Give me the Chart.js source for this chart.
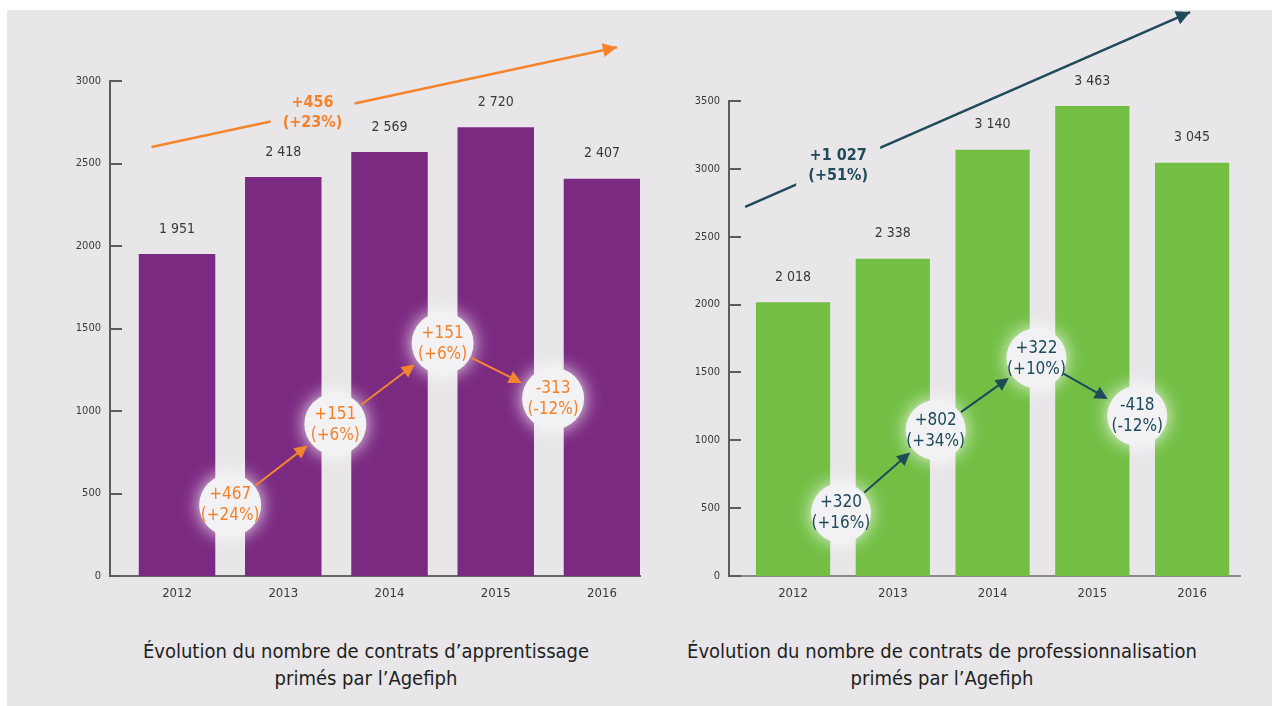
<!DOCTYPE html>
<html>
<head>
<meta charset="utf-8">
<script src="https://cdn.jsdelivr.net/npm/chart.js@4.4.1/dist/chart.umd.min.js"></script>
<style>
  body { margin: 0; width: 1272px; height: 706px; overflow: hidden; background: #fff; position: relative;
         font-family: 'Liberation Sans Narrow', 'DejaVu Sans Condensed', Roboto, sans-serif; }
  #bg { position: absolute; left: 7px; top: 10px; right: 0; bottom: 0; background: #e8e6e9; }
  canvas { position: absolute; top: 0; }
  #apprChart { left: 0; }
  #proChart { left: 650px; }
  .title { position: absolute; top: 638px; text-align: center; font-size: 20px; line-height: 27px; color: #231f20; }
</style>
</head>
<body>
<div id="bg"></div>
<canvas id="apprChart" width="672" height="620"></canvas>
<canvas id="proChart" width="622" height="620"></canvas>
<div class="title" style="left:116px;width:500px">Évolution du nombre de contrats d’apprentissage<br>primés par l’Agefiph</div>
<div class="title" style="left:672px;width:540px">Évolution du nombre de contrats de professionnalisation<br>primés par l’Agefiph</div>
<script>
const years = [2012, 2013, 2014, 2015, 2016];

// contrats d'apprentissage
const apprValues = [1951, 2418, 2569, 2720, 2407];
const apprDeltas = ['+467', '+151', '+151', '-313'];
const apprPcts = ['(+24%)', '(+6%)', '(+6%)', '(-12%)'];
const apprBubbleX = [2012.5, 2013.49, 2014.5, 2015.54];
const apprBubbleY = [430, 920, 1410, 1075];
const apprTrendX = [2011.76, 2016.14];
const apprTrendY = [2600, 3205];
const apprTotal = ['+456', '(+23%)'];

// contrats de professionnalisation
const proValues = [2018, 2338, 3140, 3463, 3045];
const proDeltas = ['+320', '+802', '+322', '-418'];
const proPcts = ['(+16%)', '(+34%)', '(+10%)', '(-12%)'];
const proBubbleX = [2012.48, 2013.43, 2014.44, 2015.45];
const proBubbleY = [465, 1075, 1605, 1180];
const proTrendX = [2011.52, 2015.98];
const proTrendY = [2720, 4155];
const proTotal = ['+1 027', '(+51%)'];

const BG = '#e8e6e9';
Chart.defaults.font.family = "'Liberation Sans Narrow', 'DejaVu Sans Condensed', Roboto, sans-serif";

function fmt(v) {
    return String(v).replace(/\B(?=(\d{3})+(?!\d))/g, ' ');
}

function arrowHead(ctx, x1, y1, x2, y2, size, color) {
    const a = Math.atan2(y2 - y1, x2 - x1);
    ctx.fillStyle = color;
    ctx.beginPath();
    ctx.moveTo(x2, y2);
    ctx.lineTo(x2 - size * Math.cos(a) + size * 0.5 * Math.sin(a), y2 - size * Math.sin(a) - size * 0.5 * Math.cos(a));
    ctx.lineTo(x2 - size * Math.cos(a) - size * 0.5 * Math.sin(a), y2 - size * Math.sin(a) + size * 0.5 * Math.cos(a));
    ctx.closePath();
    ctx.fill();
}

const annotate = {
    id: 'annotate',
    beforeDatasetDraw(chart, args) {
        if (args.meta.type !== 'bubble') return;
        const ctx = chart.ctx;
        ctx.save();
        ctx.shadowColor = 'rgba(255,255,255,0.9)';
        ctx.shadowBlur = 18;
    },
    afterDatasetDraw(chart, args) {
        if (args.meta.type === 'bubble') chart.ctx.restore();
    },
    afterDatasetsDraw(chart, args, o) {
        const ctx = chart.ctx;
        ctx.save();
        ctx.textAlign = 'center';
        ctx.textBaseline = 'middle';

        // valeurs au-dessus des barres
        const bars = chart.getDatasetMeta(2).data;
        ctx.fillStyle = '#3a3838';
        ctx.font = "14px " + Chart.defaults.font.family;
        bars.forEach((b, i) => ctx.fillText(fmt(o.values[i]), b.x, b.y - 25));

        // flèches entre les bulles
        const bubbles = chart.getDatasetMeta(0).data;
        ctx.strokeStyle = o.accent;
        ctx.lineWidth = 2;
        for (let i = 0; i < bubbles.length - 1; i++) {
            const a = bubbles[i], b = bubbles[i + 1];
            const d = Math.hypot(b.x - a.x, b.y - a.y);
            const ux = (b.x - a.x) / d, uy = (b.y - a.y) / d;
            const sx = a.x + ux * (o.radius + 1), sy = a.y + uy * (o.radius + 1);
            const ex = b.x - ux * (o.radius + 4), ey = b.y - uy * (o.radius + 4);
            ctx.beginPath();
            ctx.moveTo(sx, sy);
            ctx.lineTo(ex - ux * 8, ey - uy * 8);
            ctx.stroke();
            arrowHead(ctx, sx, sy, ex, ey, 13, o.accent);
        }

        // textes dans les bulles
        ctx.fillStyle = o.textColor;
        ctx.font = "17px " + Chart.defaults.font.family;
        bubbles.forEach((p, i) => {
            ctx.fillText(o.deltas[i], p.x, p.y - 10);
            ctx.fillText(o.pcts[i], p.x, p.y + 11);
        });

        // tendance globale
        const t = chart.getDatasetMeta(1).data;
        const p0 = t[0], p1 = t[t.length - 1];
        arrowHead(ctx, p0.x, p0.y, p1.x, p1.y, 14, o.accent);
        const cx = p0.x + (p1.x - p0.x) * o.totalAt;
        const cy = p0.y + (p1.y - p0.y) * o.totalAt;
        ctx.fillStyle = BG;
        ctx.fillRect(cx - 42, cy - 22, 84, 44);
        ctx.fillStyle = o.textColor;
        ctx.font = "bold 16px " + Chart.defaults.font.family;
        ctx.fillText(o.total[0], cx, cy - 10);
        ctx.fillText(o.total[1], cx, cy + 10);
        ctx.restore();
    },
    afterDraw(chart) {
        // petits traits de graduation vers l'intérieur
        const y = chart.scales.y, ctx = chart.ctx;
        ctx.save();
        ctx.strokeStyle = '#5c5c5c';
        ctx.lineWidth = 2;
        y.ticks.forEach(t => {
            const py = Math.round(y.getPixelForValue(t.value));
            ctx.beginPath();
            ctx.moveTo(y.right, py);
            ctx.lineTo(y.right + 12, py);
            ctx.stroke();
        });
        ctx.restore();
    }
};

function makeChart(id, o) {
    return new Chart(document.getElementById(id), {
        type: 'bar',
        plugins: [annotate],
        data: {
            datasets: [
                { type: 'bubble', order: 1, data: o.bubbleX.map((x, i) => ({ x: x, y: o.bubbleY[i], r: o.radius })),
                  backgroundColor: '#f2f1f3', borderWidth: 0 },
                { type: 'line', order: 2, data: o.trendX.map((x, i) => ({ x: x, y: o.trendY[i] })),
                  borderColor: o.accent, borderWidth: 2.5, pointRadius: 0, clip: false },
                { type: 'bar', order: 3, data: years.map((x, i) => ({ x: x, y: o.values[i] })),
                  backgroundColor: o.barColor, barPercentage: o.barPct, categoryPercentage: 0.8 }
            ]
        },
        options: {
            responsive: false,
            animation: false,
            events: [],
            layout: { padding: o.padding },
            plugins: {
                legend: { display: false },
                tooltip: { enabled: false },
                annotate: o
            },
            scales: {
                x: {
                    type: 'linear', min: o.xMin, max: o.xMax, offset: false,
                    grid: { display: false, drawTicks: false, offset: false },
                    border: { color: o.xAxisColor, width: 2 },
                    ticks: { stepSize: 1, includeBounds: false, padding: 10, maxRotation: 0, color: '#3a3838',
                             font: { size: 13 }, callback: v => years.includes(v) ? String(v) : '' },
                    afterFit: s => { s.height = 30; }
                },
                y: {
                    min: 0, max: o.yMax,
                    grid: { display: false, drawTicks: false },
                    border: { color: '#5c5c5c', width: 2 },
                    ticks: { stepSize: 500, padding: 9, color: '#3a3838', font: { size: 11 }, callback: v => String(v) },
                    afterFit: s => { s.width = 40; }
                }
            }
        }
    });
}

makeChart('apprChart', {
    values: apprValues, deltas: apprDeltas, pcts: apprPcts,
    bubbleX: apprBubbleX, bubbleY: apprBubbleY, trendX: apprTrendX, trendY: apprTrendY,
    total: apprTotal, totalAt: 0.346, radius: 31,
    barColor: '#7b2a82', accent: '#f5852c', textColor: '#f3822a', xAxisColor: '#666',
    barPct: 0.9, xMin: 2011.369, xMax: 2016.358, yMax: 3000,
    padding: { left: 70, right: 32, top: 81, bottom: 14 }
});

makeChart('proChart', {
    values: proValues, deltas: proDeltas, pcts: proPcts,
    bubbleX: proBubbleX, bubbleY: proBubbleY, trendX: proTrendX, trendY: proTrendY,
    total: proTotal, totalAt: 0.209, radius: 30,
    barColor: '#72bf44', accent: '#1e4a5a', textColor: '#1e4a5a', xAxisColor: '#888',
    barPct: 0.93, xMin: 2011.358, xMax: 2016.48, yMax: 3500,
    padding: { left: 39, right: 32, top: 101, bottom: 14 }
});
</script>
</body>
</html>
